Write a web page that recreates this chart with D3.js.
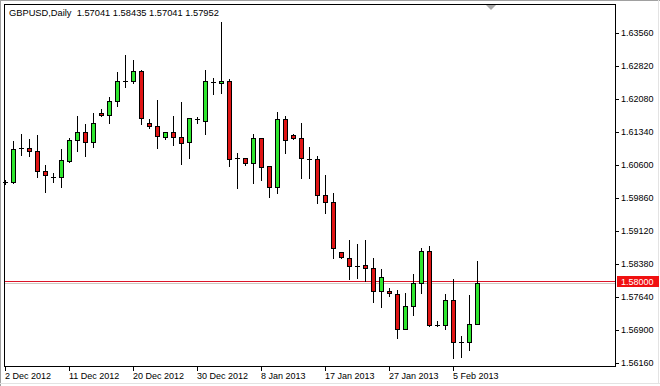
<!DOCTYPE html>
<html><head><meta charset="utf-8">
<script src="https://cdn.jsdelivr.net/npm/d3@7"></script>
<style>html,body{margin:0;padding:0;background:#fff;}svg{display:block;}</style>
</head><body>
<script>
const symbolTitle = "GBPUSD,Daily  1.57041 1.58435 1.57041 1.57952";
const opens  = [1.60205,1.60200,1.60950,1.60973,1.60905,1.60456,1.60330,1.60321,1.60687,1.61152,
                1.61332,1.61098,1.61758,1.61704,1.62027,1.62483,1.62476,1.62707,1.61540,1.61466,
                1.61219,1.61332,1.61226,1.61098,1.61630,1.61592,1.62454,1.62431,1.62483,1.60748,
                1.60748,1.60649,1.61210,1.60575,1.60111,1.61637,1.61271,1.61204,1.60739,1.60726,
                1.59918,1.59761,1.58638,1.58506,1.58338,1.58347,1.58286,1.57776,1.57763,1.57709,
                1.56923,1.57426,1.57942,1.58660,1.57000,1.57000,1.57561,1.56632,1.56618,1.57041];
const highs  = [1.60261,1.61136,1.61287,1.61174,1.61271,1.60598,1.60411,1.60950,1.61210,1.61698,
                1.61518,1.61758,1.61848,1.62131,1.62685,1.63066,1.62954,1.62723,1.61630,1.62057,
                1.61345,1.61698,1.62012,1.61645,1.61668,1.62730,1.62543,1.63814,1.62521,1.60860,
                1.60748,1.61287,1.61210,1.60575,1.61787,1.61691,1.61287,1.61534,1.61009,1.60800,
                1.60373,1.59963,1.58638,1.58925,1.58818,1.58914,1.58517,1.58270,1.57830,1.57785,
                1.57731,1.58151,1.58735,1.58773,1.57097,1.57703,1.58046,1.56760,1.57687,1.58435];
const lows   = [1.60171,1.60187,1.60822,1.60800,1.60335,1.59998,1.60223,1.60111,1.60672,1.60919,
                1.60807,1.61009,1.61690,1.61547,1.61922,1.62355,1.62431,1.61511,1.61435,1.60979,
                1.61174,1.61047,1.60627,1.60755,1.61547,1.61293,1.62191,1.62220,1.60582,1.60075,
                1.60598,1.60187,1.60261,1.59886,1.59963,1.60860,1.61174,1.60299,1.60295,1.59738,
                1.59527,1.58510,1.58510,1.58032,1.58068,1.57994,1.57529,1.57417,1.57650,1.56721,
                1.56910,1.57231,1.57731,1.56977,1.56984,1.56910,1.56273,1.56295,1.56439,1.57041];
const closes = [1.60215,1.60950,1.60973,1.60896,1.60447,1.60357,1.60321,1.60703,1.61152,1.61332,
                1.61107,1.61534,1.61704,1.62027,1.62483,1.62490,1.62707,1.61659,1.61480,1.61233,
                1.61332,1.61210,1.61098,1.61645,1.61623,1.62483,1.62454,1.62483,1.60739,1.60748,
                1.60642,1.61210,1.60559,1.60111,1.61630,1.61165,1.61197,1.60748,1.60739,1.59918,
                1.59761,1.58728,1.58522,1.58319,1.58338,1.58279,1.57776,1.58084,1.57709,1.56923,
                1.57433,1.57942,1.58660,1.56991,1.57000,1.57561,1.56618,1.56632,1.57029,1.57952];
const priceTicks = [1.63560,1.62820,1.62080,1.61340,1.60600,1.59860,1.59120,1.58380,1.57640,1.56900,1.56160];
const dateTickIndex = [0,8,16,24,32,40,48,56];
const dateTickLabels = ["2 Dec 2012","11 Dec 2012","20 Dec 2012","30 Dec 2012","8 Jan 2013","17 Jan 2013","27 Jan 2013","5 Feb 2013"];
const levelLine = 1.58000;

const W = 660, H = 386;
const L = 4, T = 4, R = 615, B = 366;
const font = "'Liberation Sans', Arial, sans-serif";

const svg = d3.select("body").append("svg").attr("width", W).attr("height", H);
svg.append("rect").attr("width", W).attr("height", H).attr("fill", "#fff");

const x = d3.scaleLinear().domain([0, 59]).range([5, 477]);
const y = d3.scaleLinear().domain([1.56160, 1.63560]).range([362.7, 33]);

// window frame
svg.append("line").attr("x1",0).attr("x2",W).attr("y1",0.5).attr("y2",0.5).attr("stroke","#a0a0a0");
svg.append("line").attr("x1",0.5).attr("x2",0.5).attr("y1",0).attr("y2",H).attr("stroke","#a0a0a0");
svg.append("line").attr("x1",0).attr("x2",W).attr("y1",383.5).attr("y2",383.5).attr("stroke","#e3e3e3");
svg.append("line").attr("x1",658.5).attr("x2",658.5).attr("y1",0).attr("y2",384).attr("stroke","#e3e3e3");

// level & bid lines
const ly = Math.round(y(levelLine));
svg.append("line").attr("x1",L).attr("x2",R).attr("y1",ly+2.5).attr("y2",ly+2.5).attr("stroke","#cfc8c0");
svg.append("line").attr("x1",L).attr("x2",R).attr("y1",ly+0.5).attr("y2",ly+0.5).attr("stroke","#dc1428");

// candles
const g = svg.append("g");
const idx = d3.range(opens.length);
g.selectAll("line.wick").data(idx).join("line")
  .attr("x1", i => x(i)+0.5).attr("x2", i => x(i)+0.5)
  .attr("y1", i => Math.round(y(highs[i]))).attr("y2", i => Math.round(y(lows[i]))+1)
  .attr("stroke", "#000").attr("stroke-width", 1);
g.selectAll("rect.body").data(idx.filter(i => Math.abs(y(opens[i]) - y(closes[i])) >= 1.5)).join("rect")
  .attr("x", i => x(i)-1.5)
  .attr("y", i => Math.round(Math.min(y(opens[i]), y(closes[i])))+0.5)
  .attr("width", 4)
  .attr("height", i => Math.max(1, Math.round(Math.abs(y(opens[i]) - y(closes[i])))))
  .attr("fill", i => closes[i] >= opens[i] ? "#2ee62e" : "#e01414")
  .attr("stroke", "#000").attr("stroke-width", 1);
g.selectAll("line.doji").data(idx.filter(i => Math.abs(y(opens[i]) - y(closes[i])) < 1.5)).join("line")
  .attr("x1", i => x(i)-2).attr("x2", i => x(i)+3)
  .attr("y1", i => Math.round(y(closes[i]))+0.5).attr("y2", i => Math.round(y(closes[i]))+0.5)
  .attr("stroke", "#000").attr("stroke-width", 1);

// chart frame
svg.append("rect").attr("x", L+0.5).attr("y", T+0.5).attr("width", R-L).attr("height", B-T)
  .attr("fill","none").attr("stroke","#000");

// shift marker
svg.append("path").attr("d", "M486,5 L496,5 L491,10 Z").attr("fill", "#a8a8a8");

// right price axis
const yAxis = svg.append("g").attr("font-family", font).attr("font-size", "9px");
yAxis.selectAll("line").data(priceTicks).join("line")
  .attr("x1", R+1).attr("x2", R+4)
  .attr("y1", d => Math.round(y(d))+0.5).attr("y2", d => Math.round(y(d))+0.5)
  .attr("stroke","#000");
yAxis.selectAll("text").data(priceTicks).join("text")
  .attr("x", 621).attr("y", d => y(d)).attr("dy","0.35em")
  .attr("fill","#000").text(d => d.toFixed(5));

// level label
svg.append("rect").attr("x", 617).attr("y", ly-5).attr("width", 42).attr("height", 11).attr("fill","#f01010");
svg.append("text").attr("x", 621).attr("y", ly+0.5).attr("dy","0.35em").attr("font-family", font)
  .attr("font-size","9px").attr("fill","#fff").text(levelLine.toFixed(5));

// bottom date axis
const xAxis = svg.append("g").attr("font-family", font).attr("font-size", "9px");
xAxis.selectAll("line").data(dateTickIndex).join("line")
  .attr("x1", i => x(i)+0.5).attr("x2", i => x(i)+0.5).attr("y1", B+1).attr("y2", B+5)
  .attr("stroke","#000");
xAxis.selectAll("text").data(dateTickIndex).join("text")
  .attr("x", i => x(i)).attr("y", 379).attr("fill","#000")
  .text((i, k) => dateTickLabels[k]);

// title
svg.append("text").attr("x", 9).attr("y", 16).attr("font-family", font).attr("font-size","9.3px")
  .attr("fill","#000").attr("xml:space","preserve").style("white-space","pre").text(symbolTitle);
</script>
</body></html>
